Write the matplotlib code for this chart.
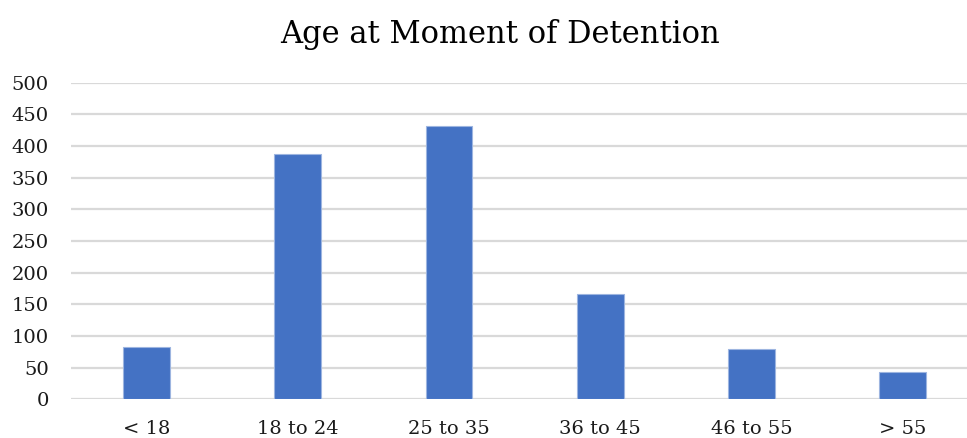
import matplotlib.pyplot as plt

categories = ["< 18", "18 to 24", "25 to 35", "36 to 45", "46 to 55", "> 55"]
counts = [82, 387, 432, 166, 80, 43]
yticks = [0, 50, 100, 150, 200, 250, 300, 350, 400, 450, 500]

plt.rcParams['font.family'] = ['DejaVu Serif']

fig = plt.figure(figsize=(9.67, 4.38), dpi=100)
ax = fig.add_axes([0.0734, 0.0884, 0.9266, 0.7228])

x = list(range(len(categories)))
ax.bar(x, counts, width=0.31, color='#4472C4', edgecolor='#9DB5E0', linewidth=0.8, zorder=3)

ax.set_xlim(-0.5, 5.426)
ax.set_ylim(0, 500)
ax.set_yticks(yticks)
ax.set_xticks(x)
ax.set_xticklabels(categories)
ax.yaxis.grid(True, color='#D9D9D9', linewidth=1.6, zorder=0)
ax.set_axisbelow(True)
for s in ax.spines.values():
    s.set_visible(False)
ax.tick_params(axis='both', length=0, labelsize=14, colors='#1a1a1a')
ax.tick_params(axis='x', pad=15)
ax.tick_params(axis='y', pad=16)

fig.text(500 / 967, 0.902, "Age at Moment of Detention", ha='center', va='baseline',
         fontsize=22, color='black')

fig.savefig("out.png", dpi=100)
